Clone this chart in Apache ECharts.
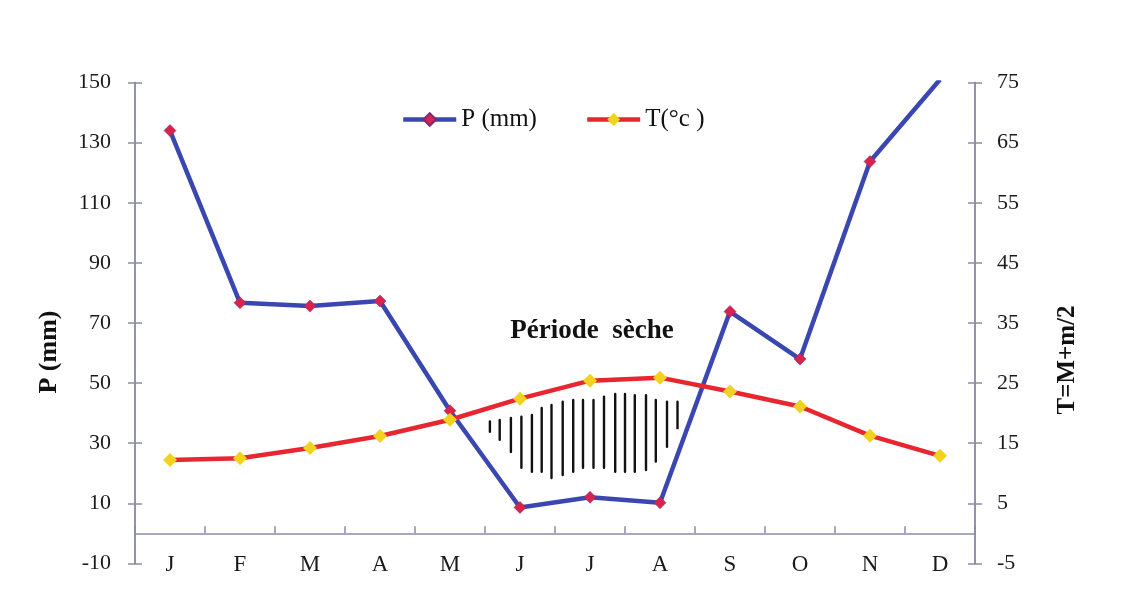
<!DOCTYPE html>
<html><head><meta charset="utf-8">
<script src="https://cdn.jsdelivr.net/npm/echarts@6/dist/echarts.min.js"></script>
<style>html,body{margin:0;padding:0;background:#fff}#c{width:1130px;height:607px}</style>
</head><body><div id="c"></div>
<script>
// ---- data ----
const months = ['J','F','M','A','M','J','J','A','S','O','N','D'];
const precip = [134, 76.7, 75.6, 77.3, 40.8, 8.6, 12, 10.2, 73.8, 58, 123.7, 151];
const temp = [12.2, 12.5, 14.2, 16.2, 18.9, 22.4, 25.4, 25.9, 23.6, 21.1, 16.25, 12.9];
const pTicks = [-10, 10, 30, 50, 70, 90, 110, 130, 150];
const tTicks = [-5, 5, 15, 25, 35, 45, 55, 65, 75];
// hand-drawn hatching of the dry period (month index, top/bottom in P units)
const hatchX = [4.57, 4.71, 4.87, 5.02, 5.17, 5.31, 5.45, 5.61, 5.76, 5.9, 6.05, 6.2, 6.36, 6.5, 6.64, 6.8, 6.94, 7.1, 7.25];
const hatchTop = [37.2, 37.7, 38.4, 38.8, 39.4, 41.7, 42.7, 43.8, 44.4, 44.4, 44.4, 45.5, 46.4, 46.4, 46.0, 46.0, 44.4, 43.8, 43.8];
const hatchBottom = [33.8, 31.1, 27.1, 21.8, 20.5, 20.5, 18.4, 19.4, 20.5, 21.8, 21.8, 21.8, 20.5, 20.5, 20.5, 21.1, 23.9, 28.8, 35.0];

const FONT = 'Liberation Serif';
const AX = '#8b8ba8';
const chart = echarts.init(document.getElementById('c'), null, {renderer: 'canvas'});

function yAx(pos, min, max, ticks, inside, labels, margin) {
  return {
    type: 'value', position: pos, min: min, max: max,
    axisLine: {show: true, onZero: false, lineStyle: {color: AX, width: 1.5}},
    axisTick: {show: true, inside: inside, length: 7, customValues: ticks, lineStyle: {color: AX, width: 1.5}},
    axisLabel: {show: labels, customValues: ticks, margin: margin, fontFamily: FONT, fontSize: 22, color: '#1a1a1a'},
    splitLine: {show: false}
  };
}

chart.setOption({
  backgroundColor: '#ffffff',
  animation: false,
  grid: {left: 135, right: 155, top: 82.5, bottom: 43.6, containLabel: false},
  legend: {
    top: 102, left: 396, itemWidth: 53, itemHeight: 16, itemGap: 48,
    lineStyle: {width: 4.5},
    textStyle: {fontFamily: FONT, fontSize: 25, color: '#111'},
    data: ['P (mm)', 'T(°c )']
  },
  xAxis: [{
    type: 'category', data: months, boundaryGap: true,
    axisLine: {show: true, onZero: true, onZeroAxisIndex: 0, lineStyle: {color: AX, width: 1.5}},
    axisTick: {show: true, inside: true, length: 7, alignWithLabel: false, lineStyle: {color: AX, width: 1.5}},
    axisLabel: {margin: -10, fontFamily: FONT, fontSize: 23, color: '#1a1a1a'},
    splitLine: {show: false}
  }, {
    type: 'value', min: -0.5, max: 11.5, show: false
  }],
  yAxis: [
    yAx('left', -10, 150, pTicks, false, true, 24),
    yAx('left', -10, 150, pTicks, true, false, 8),
    yAx('right', -5, 75, tTicks, false, true, 22),
    yAx('right', -5, 75, tTicks, true, false, 8)
  ],
  graphic: [
    {type: 'text', x: 49, y: 352, rotation: Math.PI / 2,
     style: {text: 'P (mm)', font: 'bold 26px "Liberation Serif"', fill: '#111', align: 'center', verticalAlign: 'middle'}},
    {type: 'text', x: 1068, y: 360, rotation: Math.PI / 2,
     style: {text: 'T=M+m/2', font: 'bold 25px "Liberation Serif"', fill: '#111', align: 'center', verticalAlign: 'middle'}},
    {type: 'text', x: 592, y: 331,
     style: {text: 'Période  sèche', font: 'bold 27px "Liberation Serif"', fill: '#111', align: 'center', verticalAlign: 'middle'}}
  ],
  series: [
    {
      type: 'custom', name: 'hatch', xAxisIndex: 1, yAxisIndex: 0, silent: true,
      data: hatchX.map((x, i) => [x, hatchTop[i], hatchBottom[i]]),
      encode: {x: 0, y: [1, 2]},
      renderItem: function (params, api) {
        const p1 = api.coord([api.value(0), api.value(1)]);
        const p2 = api.coord([api.value(0), api.value(2)]);
        return {type: 'line', shape: {x1: p1[0], y1: p1[1], x2: p2[0], y2: p2[1]},
                style: {stroke: '#111', lineWidth: 2.4, lineCap: 'round'}};
      }
    },
    {
      name: 'P (mm)', type: 'line', xAxisIndex: 0, yAxisIndex: 0, data: precip,
      symbol: 'diamond', symbolSize: 12, showAllSymbol: true,
      lineStyle: {color: '#3b47b0', width: 4.5},
      itemStyle: {color: '#d9234f', borderColor: '#7a2a70', borderWidth: 0.5},
      z: 3
    },
    {
      name: 'T(°c )', type: 'line', xAxisIndex: 0, yAxisIndex: 2, data: temp,
      symbol: 'diamond', symbolSize: 14, showAllSymbol: true,
      lineStyle: {color: '#e8262f', width: 4.5},
      itemStyle: {color: '#f2d21e'},
      z: 4
    }
  ]
});
</script>
</body></html>
